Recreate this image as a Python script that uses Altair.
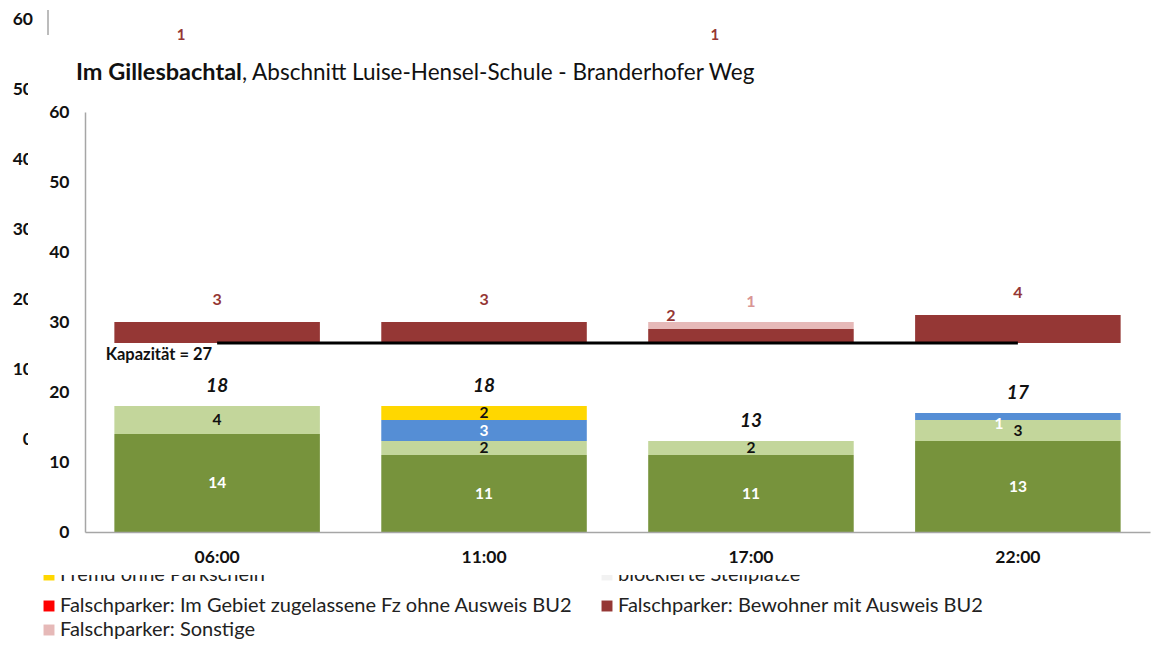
import altair as alt
import pandas as pd

# ---------------- data ----------------
times = ["06:00", "11:00", "17:00", "22:00"]
legal_bewohner = [14, 11, 11, 13]      # dark green
legal_sonstige = [4, 2, 2, 3]          # light green
fremd_mit_schein = [0, 3, 0, 1]        # blue
fremd_ohne_schein = [0, 2, 0, 0]       # yellow
kapazitaet = 27
fp_bewohner = [3, 3, 2, 4]             # dark red
fp_sonstige = [0, 0, 1, 0]             # pink

y_ticks = [0, 10, 20, 30, 40, 50, 60]
ghost_ticks = [0, 10, 20, 30, 40, 50, 60]
ghost_red_times = ["06:00", "17:00"]
ghost_red_values = [1, 1]

title_bold = "Im Gillesbachtal"
title_rest = ", Abschnitt Luise-Hensel-Schule - Branderhofer Weg"
kap_label = "Kapazität = 27"

series_names = [
    "Bewohner mit Ausweis BU2",
    "Sonstige legal Parkende",
    "Fremd mit Parkschein",
    "Fremd ohne Parkschein",
    "frei",
    "Falschparker: Bewohner mit Ausweis BU2",
    "Falschparker: Sonstige",
]
series_colors = ["#77933c", "#c3d69b", "#558ed5", "#ffd700", "#ffffff", "#953735", "#e6b9b8"]

legend_labels = [
    "Fremd ohne Parkschein",
    "blockierte Stellplätze",
    "Falschparker: Im Gebiet zugelassene Fz ohne Ausweis BU2",
    "Falschparker: Bewohner mit Ausweis BU2",
    "Falschparker: Sonstige",
]
legend_colors = ["#ffd700", "#f2f2f2", "#ff0000", "#953735", "#e6b9b8"]

# ---------------- tables ----------------
rows = []
for i, t in enumerate(times):
    occupied = legal_bewohner[i] + legal_sonstige[i] + fremd_mit_schein[i] + fremd_ohne_schein[i]
    vals = [legal_bewohner[i], legal_sonstige[i], fremd_mit_schein[i], fremd_ohne_schein[i],
            kapazitaet - occupied, fp_bewohner[i], fp_sonstige[i]]
    for k, (s, v) in enumerate(zip(series_names, vals)):
        rows.append({"time": t, "series": s, "order": k, "value": v,
                     "has_pink": fp_sonstige[i] > 0})
df = pd.DataFrame(rows)

totals = [legal_bewohner[i] + legal_sonstige[i] + fremd_mit_schein[i] + fremd_ohne_schein[i]
          for i in range(len(times))]
df_tot = pd.DataFrame({"time": times, "total": totals})
df_cap = pd.DataFrame({"x": [times[0]], "x2": [times[-1]], "y": [kapazitaet], "label": [kap_label]})
df_ghost = pd.DataFrame({"v": ghost_ticks})
df_ghost_red = pd.DataFrame({"time": ghost_red_times, "v": ghost_red_values})
one = pd.DataFrame({"a": [0]})

FONT = "Lato"
AX_FS = 17.5
LBL_FS = 15.5
LEG_FS = 20

x_scale = alt.Scale(domain=times, paddingInner=0.23, paddingOuter=0.11)
y_scale = alt.Scale(domain=[0, 60], nice=False, zero=True)

x_axis = alt.Axis(title=None, ticks=False, labelFontSize=AX_FS, labelFontWeight="bold",
                  labelColor="#111", labelPadding=16, domainColor="#a6a6a6", domainWidth=1.5,
                  labelAngle=0, zindex=1)
y_axis = alt.Axis(title=None, ticks=False, values=y_ticks, labelFontSize=AX_FS, labelFontWeight="bold",
                  labelColor="#111", labelPadding=16, domainColor="#a6a6a6", domainWidth=1.5,
                  grid=False, zindex=1)

X = alt.X("time:N", scale=x_scale, sort=times, axis=x_axis)

stacked = alt.Chart(df).transform_stack(
    stack="value", groupby=["time"], sort=[alt.SortField("order")], as_=["y0", "y1"]
).transform_calculate(mid="(datum.y0 + datum.y1) / 2")

# ---------------- ghost (background screenshot) ----------------
ghost_labels = alt.Chart(df_ghost).mark_text(
    align="right", baseline="middle", dy=-92, fontSize=AX_FS, fontWeight="bold", color="#111", font=FONT
).encode(x=alt.value(-52), y=alt.Y("v:Q", scale=y_scale), text="v:Q")

ghost_red = alt.Chart(df_ghost_red).mark_text(
    align="center", baseline="middle", dx=-36, fontSize=15, fontWeight="bold", color="#953735", font=FONT
).encode(x=X, y=alt.value(-77), text="v:Q")

ghost_rule = alt.Chart(one).mark_rule(color="#a6a6a6", strokeWidth=1.5).encode(
    x=alt.value(-37), y=alt.value(-102), y2=alt.value(-77))


def legend_item(idx, px, py):
    sq = alt.Chart(one).mark_square(size=120, opacity=1, color=legend_colors[idx]).encode(
        x=alt.value(px - 85 - 11), y=alt.value(py - 112))
    tx = alt.Chart(one).mark_text(align="left", baseline="middle", fontSize=LEG_FS, color="#222",
                                  font=FONT, text=legend_labels[idx]).encode(
        x=alt.value(px - 85), y=alt.value(py - 112))
    return [sq, tx]


ghost_legend = legend_item(0, 60, 575) + legend_item(1, 618, 575)

cover = alt.Chart(one).mark_rect(color="white").encode(
    x=alt.value(-57), x2=alt.value(1080), y=alt.value(-67), y2=alt.value(463))

# ---------------- main chart ----------------
bars = stacked.transform_filter("datum.value > 0 && datum.series != 'frei'").mark_bar().encode(
    x=X,
    y=alt.Y("y0:Q", scale=y_scale, axis=y_axis),
    y2="y1:Q",
    color=alt.Color("series:N", scale=alt.Scale(domain=series_names, range=series_colors), legend=None),
)

white_lbl = stacked.transform_filter(
    "datum.value > 1 && (datum.order == 0 || datum.order == 2)"
).mark_text(fontSize=LBL_FS, fontWeight="bold", color="white", baseline="middle", font=FONT).encode(
    x=X, y=alt.Y("mid:Q", scale=y_scale), text="value:Q")

white_lbl_small = stacked.transform_filter(
    "datum.value == 1 && datum.order == 2"
).mark_text(fontSize=LBL_FS, fontWeight="bold", color="white", baseline="middle", dx=-19, dy=7,
            font=FONT).encode(x=X, y=alt.Y("mid:Q", scale=y_scale), text="value:Q")

black_lbl = stacked.transform_filter(
    "datum.value > 0 && (datum.order == 1 || datum.order == 3)"
).mark_text(fontSize=LBL_FS, fontWeight="bold", color="#111", baseline="middle", font=FONT).encode(
    x=X, y=alt.Y("mid:Q", scale=y_scale), text="value:Q")

red_lbl = stacked.transform_filter(
    "datum.value > 0 && datum.order == 5 && !datum.has_pink"
).mark_text(fontSize=16, fontWeight="bold", color="#953735", baseline="middle", dy=-22,
            font=FONT).encode(x=X, y=alt.Y("y1:Q", scale=y_scale), text="value:Q")

red_lbl_p = stacked.transform_filter(
    "datum.value > 0 && datum.order == 5 && datum.has_pink"
).mark_text(fontSize=16, fontWeight="bold", color="#953735", baseline="middle", dy=-13, dx=-80,
            font=FONT).encode(x=X, y=alt.Y("y1:Q", scale=y_scale), text="value:Q")

pink_lbl = stacked.transform_filter(
    "datum.value > 0 && datum.order == 6"
).mark_text(fontSize=16, fontWeight="bold", color="#d99694", baseline="middle", dy=-20,
            font=FONT).encode(x=X, y=alt.Y("y1:Q", scale=y_scale), text="value:Q")

tot_lbl = alt.Chart(df_tot).mark_text(
    fontSize=19, fontWeight="bold", fontStyle="italic", color="#111", baseline="middle", dy=-20, font=FONT
).encode(x=X, y=alt.Y("total:Q", scale=y_scale), text="total:Q")

cap_rule = alt.Chart(df_cap).mark_rule(color="black", strokeWidth=3).encode(
    x=alt.X("x:N", scale=x_scale, sort=times), x2="x2:N", y=alt.Y("y:Q", scale=y_scale))

cap_text = alt.Chart(df_cap).mark_text(
    align="right", baseline="middle", dx=-5, dy=12, fontSize=16.5, fontWeight="bold", color="#111",
    font=FONT
).encode(x=alt.X("x:N", scale=x_scale, sort=times), y=alt.Y("y:Q", scale=y_scale), text="label:N")

title1 = alt.Chart(one).mark_text(align="left", baseline="alphabetic", fontSize=23.5, fontWeight="bold",
                                  color="#111", font=FONT, text=title_bold).encode(
    x=alt.value(76 - 85), y=alt.value(80 - 112))
title2 = alt.Chart(one).mark_text(align="left", baseline="alphabetic", fontSize=22.5,
                                  color="#111", font=FONT, text=title_rest).encode(
    x=alt.value(242 - 85), y=alt.value(80 - 112))

legend_main = legend_item(2, 60, 606) + legend_item(3, 618, 606) + legend_item(4, 60, 630)

layers = ([ghost_labels, ghost_red, ghost_rule] + ghost_legend +
          [cover, bars, white_lbl, white_lbl_small, black_lbl, red_lbl, red_lbl_p, pink_lbl, tot_lbl,
           cap_rule, cap_text, title1, title2] + legend_main)

chart = alt.layer(*layers).properties(
    width=1065, height=420,
    autosize=alt.AutoSizeParams(type="none"),
    padding={"left": 77, "top": 104, "right": 4, "bottom": 108},
    background="white",
).configure_view(stroke=None).configure(font=FONT)

chart.save("out.html", embed_options={"renderer": "svg", "actions": False})
